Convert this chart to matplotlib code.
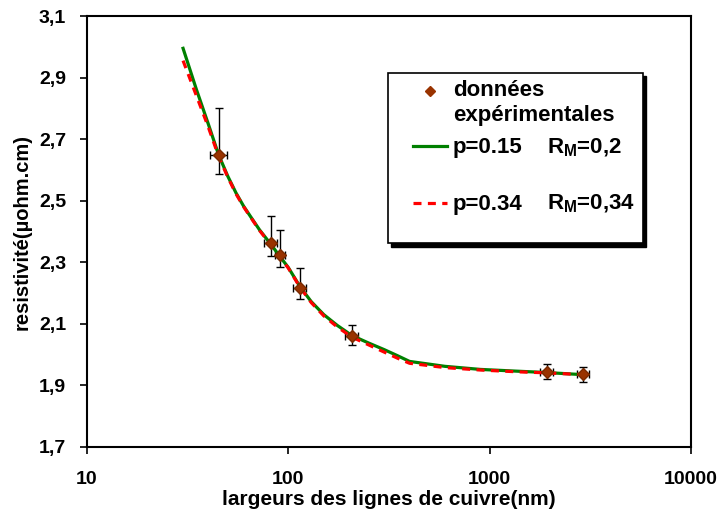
import numpy as np
import matplotlib
matplotlib.use('Agg')
import matplotlib.pyplot as plt
from matplotlib.patches import Rectangle
from matplotlib.lines import Line2D

plt.rcParams['font.family'] = ['Liberation Sans', 'DejaVu Sans']
plt.rcParams['font.weight'] = 'bold'
plt.rcParams['mathtext.fontset'] = 'custom'
plt.rcParams['mathtext.rm'] = 'Liberation Sans:bold'
plt.rcParams['mathtext.bf'] = 'Liberation Sans:bold'

# points experimentaux
largeur = [45.4, 82, 91, 114, 207, 1923, 2912]
rho = [2.65, 2.364, 2.324, 2.216, 2.062, 1.943, 1.937]
err_x = [4.4, 6, 5, 9, 15, 150, 190]
err_y_bas = [0.062, 0.042, 0.039, 0.036, 0.031, 0.022, 0.025]
err_y_haut = [0.15, 0.087, 0.082, 0.064, 0.035, 0.027, 0.024]

# courbes theoriques
courbe_x = [30, 35, 40, 45, 50, 55, 60, 65, 72, 82, 91, 100, 114, 130, 150, 175, 207,
            250, 300, 350, 400, 600, 900, 1400, 1900, 2900]
rho_p015 = [2.995, 2.86, 2.75, 2.65, 2.58, 2.525, 2.482, 2.448, 2.405, 2.358, 2.318, 2.283,
            2.222, 2.172, 2.13, 2.095, 2.062, 2.038, 2.016, 1.996, 1.978, 1.962, 1.952,
            1.946, 1.942, 1.935]
rho_p034 = [2.955, 2.84, 2.74, 2.645, 2.577, 2.522, 2.48, 2.446, 2.403, 2.356, 2.316, 2.281,
            2.22, 2.169, 2.126, 2.09, 2.057, 2.032, 2.008, 1.988, 1.972, 1.958, 1.95,
            1.944, 1.941, 1.935]

y_ticks = [1.7, 1.9, 2.1, 2.3, 2.5, 2.7, 2.9, 3.1]
x_ticks = [10, 100, 1000, 10000]

fig = plt.figure(figsize=(7.21, 5.13), dpi=100)
ax = fig.add_axes([87 / 721, 1 - 447 / 513, 604 / 721, 431 / 513])

ax.errorbar(largeur, rho, xerr=err_x, yerr=[err_y_bas, err_y_haut], fmt='none',
            ecolor='black', elinewidth=1, capsize=3, capthick=1, zorder=2)
ax.plot(courbe_x, rho_p015, color='#008000', lw=2.3, zorder=3)
ax.plot(courbe_x, rho_p034, color='#ff0000', lw=2.3, ls=(0, (2.5, 2)), zorder=4)
ax.plot(largeur, rho, ls='none', marker='D', ms=6.5, color='#993300',
        mec='#7a2a00', zorder=5)

ax.set_xscale('log')
ax.set_xlim(10, 10000)
ax.set_ylim(1.7, 3.1)
ax.set_xticks(x_ticks)
ax.set_xticklabels([str(v) for v in x_ticks])
ax.xaxis.set_minor_locator(matplotlib.ticker.NullLocator())
ax.set_yticks(y_ticks)
ax.set_yticklabels([f"{v:.1f}".replace('.', ',') for v in y_ticks])
ax.tick_params(direction='out', length=5, width=1.2, labelsize=14)
ax.tick_params(axis='x', pad=12)
ax.tick_params(axis='y', pad=10)
for t in ax.get_xticklabels() + ax.get_yticklabels():
    t.set_fontweight('bold')
for s in ax.spines.values():
    s.set_linewidth(1.5)

ax.set_xlabel('largeurs des lignes de cuivre(nm)', fontsize=15, fontweight='bold', labelpad=2)
ax.set_ylabel('resistivité(µohm.cm)', fontsize=14.5, fontweight='bold', labelpad=5)

# legende faite a la main (cadre avec ombre)
lx0, lx1, ly0, ly1 = 0.498, 0.920, 0.473, 0.868
ax.add_patch(Rectangle((lx0 + 0.006, ly0 - 0.008), lx1 - lx0, ly1 - ly0, transform=ax.transAxes,
                       facecolor='black', edgecolor='black', zorder=6))
ax.add_patch(Rectangle((lx0, ly0), lx1 - lx0, ly1 - ly0, transform=ax.transAxes,
                       facecolor='white', edgecolor='black', lw=1.2, zorder=7))
ax.add_line(Line2D([0.568], [0.826], transform=ax.transAxes, marker='D', ms=5,
                   color='#993300', ls='none', zorder=8))
ax.add_line(Line2D([0.540, 0.596], [0.698, 0.698], transform=ax.transAxes,
                   color='#008000', lw=2.3, zorder=8))
ax.add_line(Line2D([0.540, 0.596], [0.566, 0.566], transform=ax.transAxes,
                   color='#ff0000', lw=2.3, ls=(0, (2.5, 2)), zorder=8))
kw = dict(transform=ax.transAxes, fontsize=16, fontweight='bold', va='center', zorder=9)
ax.text(0.606, 0.826, 'données', **kw)
ax.text(0.606, 0.770, 'expérimentales', **kw)
ax.text(0.606, 0.695, 'p=0.15', **kw)
ax.text(0.762, 0.695, r'R$_\mathbf{M}$=0,2', **kw)
ax.text(0.606, 0.563, 'p=0.34', **kw)
ax.text(0.762, 0.563, r'R$_\mathbf{M}$=0,34', **kw)

fig.savefig('out.png', dpi=100)
